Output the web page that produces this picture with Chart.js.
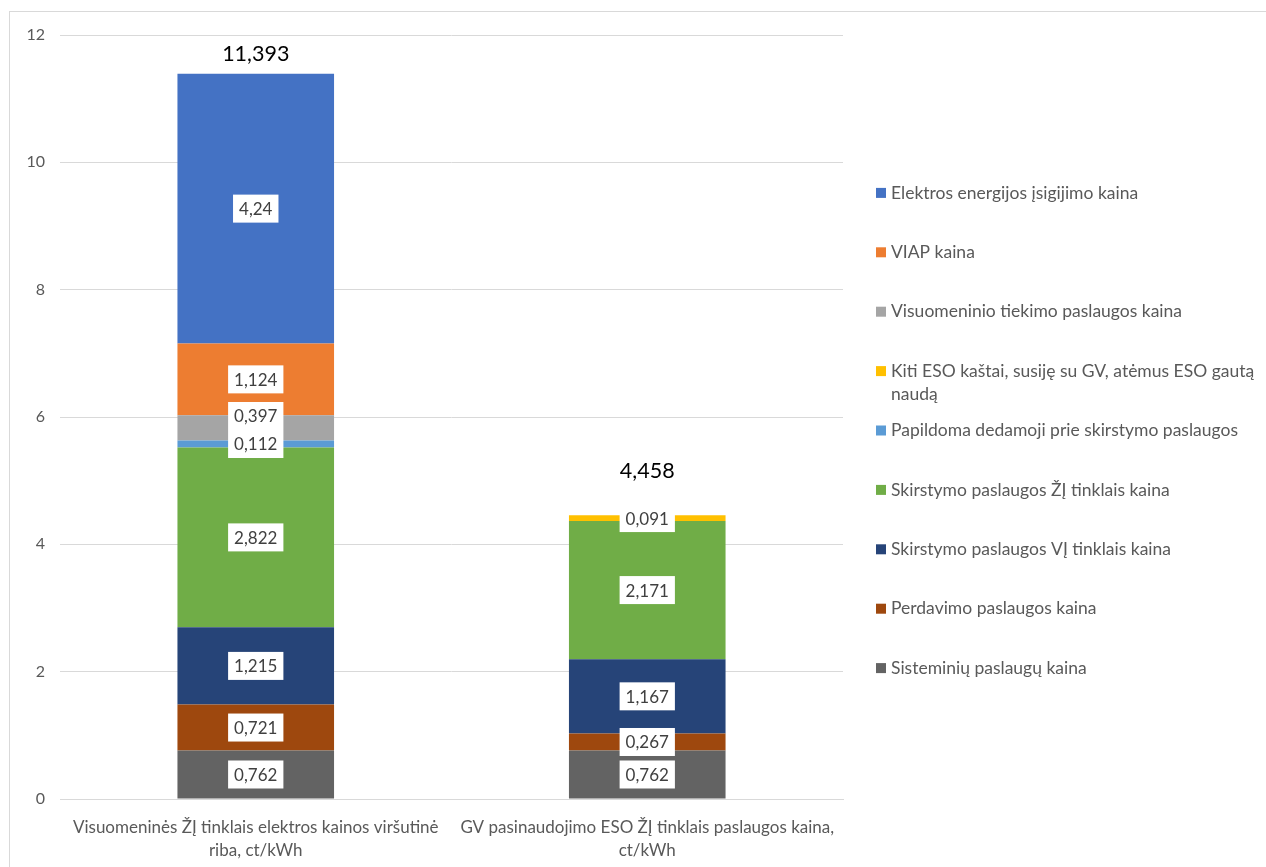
<!DOCTYPE html>
<html lang="lt">
<head>
<meta charset="utf-8">
<title>Elektros kainos sudedamosios dalys</title>
<script src="https://cdn.jsdelivr.net/npm/chart.js@4"></script>
<style>
  html, body { margin: 0; padding: 0; background: #fff; }
  #wrap { position: relative; width: 1266px; height: 867px; }
</style>
</head>
<body>
<div id="wrap"><canvas id="kainos"></canvas></div>
<script>
const categories = [
    ['Visuomeninės ŽĮ tinklais elektros kainos viršutinė', 'riba, ct/kWh'],
    ['GV pasinaudojimo ESO ŽĮ tinklais paslaugos kaina,', 'ct/kWh']
];

// sudedamosios dalys, nuo apačios į viršų
const sisteminiu = [0.762, 0.762];
const perdavimo = [0.721, 0.267];
const skirstymoVI = [1.215, 1.167];
const skirstymoZI = [2.822, 2.171];
const papildoma = [0.112, 0];
const kitiESO = [0, 0.091];
const visuomeninio = [0.397, 0];
const viap = [1.124, 0];
const elektros = [4.24, 0];

const yTicks = [0, 2, 4, 6, 8, 10, 12];

const FONT = 'Lato, "Open Sans", sans-serif';

const datasets = [
    { label: 'Sisteminių paslaugų kaina', data: sisteminiu, backgroundColor: '#636363' },
    { label: 'Perdavimo paslaugos kaina', data: perdavimo, backgroundColor: '#9E480E' },
    { label: 'Skirstymo paslaugos VĮ tinklais kaina', data: skirstymoVI, backgroundColor: '#264478' },
    { label: 'Skirstymo paslaugos ŽĮ tinklais kaina', data: skirstymoZI, backgroundColor: '#70AD47' },
    { label: 'Papildoma dedamoji prie skirstymo paslaugos', data: papildoma, backgroundColor: '#5B9BD5' },
    { label: 'Kiti ESO kaštai, susiję su GV, atėmus ESO gautą naudą', data: kitiESO, backgroundColor: '#FFC000' },
    { label: 'Visuomeninio tiekimo paslaugos kaina', data: visuomeninio, backgroundColor: '#A5A5A5' },
    { label: 'VIAP kaina', data: viap, backgroundColor: '#ED7D31' },
    { label: 'Elektros energijos įsigijimo kaina', data: elektros, backgroundColor: '#4472C4' }
];

const fmt = v => String(v).replace('.', ',');

// rėmelis aplink diagramą
const frame = {
    id: 'frame',
    beforeDraw(chart) {
        const c = chart.ctx;
        c.save();
        c.strokeStyle = '#d9d9d9';
        c.lineWidth = 1;
        c.strokeRect(9.5, 11.5, chart.width + 20, chart.height + 20);
        c.restore();
    }
};

// reikšmės baltuose langeliuose ir sumos virš stulpelių
const totalLift = [20, 44];
const BOX_H = 28;
const valueLabels = {
    id: 'valueLabels',
    afterDatasetsDraw(chart) {
        const c = chart.ctx;
        c.save();
        c.font = '17px ' + FONT;
        c.textAlign = 'center';
        c.textBaseline = 'middle';
        const prevTop = chart.data.labels.map(() => Infinity);
        chart.data.datasets.forEach((ds, i) => {
            const meta = chart.getDatasetMeta(i);
            meta.data.forEach((bar, j) => {
                const v = ds.data[j];
                if (!v) return;
                const txt = fmt(v);
                let cy = (bar.y + bar.base) / 2;
                // neleidžiam langeliams užlipti vienas ant kito
                if (cy + BOX_H / 2 > prevTop[j]) cy = prevTop[j] - BOX_H / 2;
                prevTop[j] = cy - BOX_H / 2;
                const w = c.measureText(txt).width + 12;
                c.fillStyle = '#ffffff';
                c.fillRect(bar.x - w / 2, cy - BOX_H / 2, w, BOX_H);
                c.fillStyle = '#404040';
                c.fillText(txt, bar.x, cy + 1);
            });
        });
        const y = chart.scales.y;
        c.font = '21.5px ' + FONT;
        c.fillStyle = '#000000';
        chart.data.labels.forEach((_, j) => {
            const sum = chart.data.datasets.reduce((s, ds) => s + ds.data[j], 0);
            const x = chart.getDatasetMeta(0).data[j].x;
            c.fillText(fmt(Math.round(sum * 1000) / 1000), x, y.getPixelForValue(sum) - totalLift[j]);
        });
        c.restore();
    }
};

// legenda dešinėje, atvirkštine tvarka
const sideLegend = {
    id: 'sideLegend',
    afterDraw(chart) {
        const c = chart.ctx;
        const items = chart.data.datasets.slice().reverse();
        const step = 59.4;
        const x0 = chart.chartArea.right + 33;
        let y = chart.height / 2 - step * (items.length - 1) / 2 - 3;
        const maxW = chart.width - (x0 + 15) - 4;
        c.save();
        c.font = '17.5px ' + FONT;
        c.textBaseline = 'middle';
        c.textAlign = 'left';
        items.forEach(ds => {
            c.fillStyle = ds.backgroundColor;
            c.fillRect(x0, y - 5, 10, 10);
            c.fillStyle = '#595959';
            const words = ds.label.split(' ');
            let line = '';
            let ly = y;
            words.forEach(w => {
                const test = line ? line + ' ' + w : w;
                if (c.measureText(test).width > maxW && line) {
                    c.fillText(line, x0 + 15, ly);
                    line = w;
                    ly += 23;
                } else {
                    line = test;
                }
            });
            c.fillText(line, x0 + 15, ly);
            y += step;
        });
        c.restore();
    }
};

new Chart(document.getElementById('kainos'), {
    type: 'bar',
    data: { labels: categories, datasets: datasets },
    plugins: [frame, valueLabels, sideLegend],
    options: {
        responsive: true,
        maintainAspectRatio: false,
        animation: false,
        categoryPercentage: 1,
        barPercentage: 0.4,
        layout: { padding: { left: 10, top: 35, right: 423, bottom: 0 } },
        plugins: {
            legend: { display: false },
            tooltip: { enabled: false }
        },
        scales: {
            x: {
                stacked: true,
                grid: { display: false, drawTicks: false },
                border: { color: '#d9d9d9' },
                ticks: {
                    color: '#595959',
                    font: { family: FONT, size: 17, lineHeight: 1.35 },
                    padding: 17,
                    maxRotation: 0,
                    autoSkip: false
                },
                afterFit(scale) { scale.height = 68; }
            },
            y: {
                stacked: true,
                min: 0,
                max: 12,
                afterBuildTicks(scale) { scale.ticks = yTicks.map(v => ({ value: v })); },
                grid: { color: '#d9d9d9', drawTicks: false },
                border: { display: false },
                ticks: {
                    color: '#595959',
                    font: { family: FONT, size: 16 },
                    padding: 15,
                    callback: v => fmt(v)
                },
                afterFit(scale) { scale.width = 50; }
            }
        }
    }
});
</script>
</body>
</html>
